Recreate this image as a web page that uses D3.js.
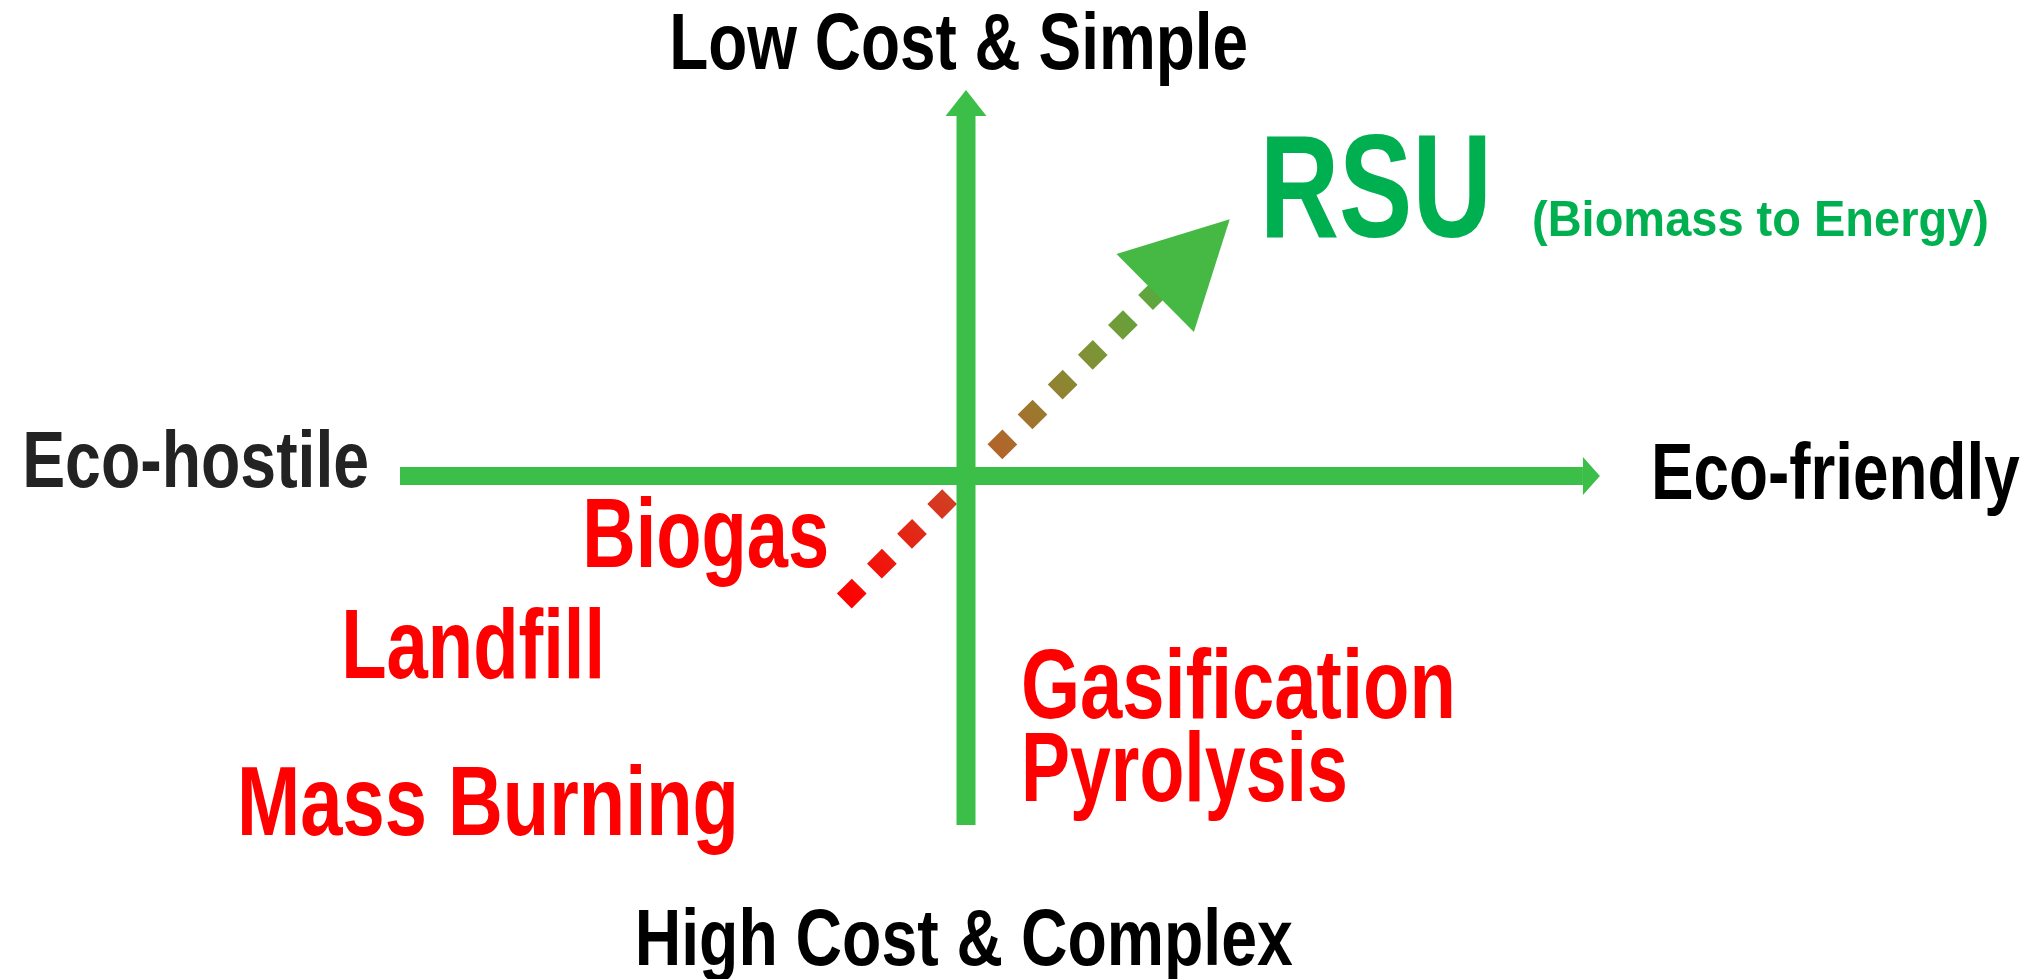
<!DOCTYPE html>
<html>
<head>
<meta charset="utf-8">
<script src="https://cdn.jsdelivr.net/npm/d3@7"></script>
<style>
  html, body { margin: 0; padding: 0; background: #fff; }
  svg { display: block; }
</style>
</head>
<body>
<svg id="chart" width="2038" height="979"></svg>
<script>
// ---- data (conceptual units: eco-friendliness on x, simplicity / low cost on y) ----
const hAxisExtent = [-100, 112];      // Eco-hostile -> Eco-friendly
const vAxisExtent = [-100, 110.6];    // High cost -> Low cost
const axisLabels = ["Low Cost & Simple", "High Cost & Complex", "Eco-hostile", "Eco-friendly"];
const axisLabelX = [-1.3, -0.4, -136.1, 153.6];
const axisLabelY = [116.6, -140.1, -3.2, -6.6];

const techNames = ["Biogas", "Landfill", "Mass Burning", "Gasification", "Pyrolysis"];
const techX = [-67.8, -110.4, -128.8, 9.7, 9.7];
const techY = [-26.1, -57.9, -102.9, -69.3, -93.1];

const targetLabels = ["RSU", "(Biomass to Energy)"];
const targetX = [51.9, 100];
const targetY = [68.5, 68.8];

const trendX = [-21.5, 46.6];   // dotted arrow: start, tip
const trendY = [-35.8, 73.6];

// ---- styles ----
const axisLabelStyle = { size: 80, widths: [579, 658, 347, 369], colors: ["#000", "#000", "#232323", "#000"] };
const techStyle = { size: 98, widths: [247, 264, 502, 435, 327], color: "#ff0000" };
const targetStyle = { sizes: [146, 50], widths: [232, 457], color: "#00b050" };
const axisColor = "#3bbf48";
const headColor = "#46b944";
const font = "'Liberation Sans', Arial, sans-serif";

// ---- scales ----
const svg = d3.select("#chart");
const x = d3.scaleLinear().domain([-100, 100]).range([400, 1532]);
const y = d3.scaleLinear().domain([-100, 100]).range([825, 127]);

// ---- gradient for dotted trend arrow ----
const defs = svg.append("defs");
const grad = defs.append("linearGradient")
  .attr("id", "trendGrad")
  .attr("gradientUnits", "userSpaceOnUse")
  .attr("x1", x(trendX[0])).attr("y1", y(trendY[0]))
  .attr("x2", x(trendX[1])).attr("y2", y(trendY[1]));
grad.append("stop").attr("offset", "0%").attr("stop-color", "#ff0000");
grad.append("stop").attr("offset", "25%").attr("stop-color", "#d6381f");
grad.append("stop").attr("offset", "40%").attr("stop-color", "#b0662a");
grad.append("stop").attr("offset", "65%").attr("stop-color", "#7c9435");
grad.append("stop").attr("offset", "85%").attr("stop-color", "#52ad40");
grad.append("stop").attr("offset", "100%").attr("stop-color", "#46b944");

// ---- dotted trend arrow ----
const sx = x(trendX[0]), sy = y(trendY[0]);
const tx = x(trendX[1]), ty = y(trendY[1]);
const len = Math.hypot(tx - sx, ty - sy);
const ux = (tx - sx) / len, uy = (ty - sy) / len;
const px = -uy, py = ux;
const headLen = 105, headHalf = 55;
const lineEnd = len - 80;
svg.append("line")
  .attr("x1", sx).attr("y1", sy)
  .attr("x2", sx + ux * lineEnd).attr("y2", sy + uy * lineEnd)
  .attr("stroke", "url(#trendGrad)")
  .attr("stroke-width", 21)
  .attr("stroke-dasharray", "21,21.4,21,21.4,21,21.4,21,63.8,21,21.4,21,21.4,21,21.4,21,21.4,21,21.4,21,21.4,21,21.4");
const bx = tx - ux * headLen, by = ty - uy * headLen;
svg.append("path")
  .attr("d", d3.line()([[tx, ty], [bx + px * headHalf, by + py * headHalf], [bx - px * headHalf, by - py * headHalf]]) + "Z")
  .attr("fill", headColor);

// ---- axes ----
const cx = x(0), cy = y(0);
const hw = 9.5;
// horizontal axis
const hx0 = x(hAxisExtent[0]), hx1 = x(hAxisExtent[1]);
svg.append("rect").attr("x", hx0).attr("y", cy - 9).attr("width", (hx1 - 17) - hx0).attr("height", 18).attr("fill", axisColor);
svg.append("path").attr("d", d3.line()([[hx1 - 17, cy - 19], [hx1, cy], [hx1 - 17, cy + 19]]) + "Z").attr("fill", axisColor);
// vertical axis
const vy0 = y(vAxisExtent[0]), vy1 = y(vAxisExtent[1]);
svg.append("rect").attr("x", cx - hw).attr("y", vy1 + 26).attr("width", hw * 2).attr("height", vy0 - (vy1 + 26)).attr("fill", axisColor);
svg.append("path").attr("d", d3.line()([[cx - 20.5, vy1 + 26], [cx, vy1], [cx + 20.5, vy1 + 26]]) + "Z").attr("fill", axisColor);

// ---- axis end labels ----
svg.selectAll("text.axisLabel").data(axisLabels).enter().append("text")
  .attr("class", "axisLabel")
  .attr("x", (d, i) => x(axisLabelX[i]))
  .attr("y", (d, i) => y(axisLabelY[i]))
  .attr("text-anchor", "middle")
  .attr("textLength", (d, i) => axisLabelStyle.widths[i])
  .attr("lengthAdjust", "spacingAndGlyphs")
  .style("font-family", font)
  .style("font-weight", "bold")
  .style("font-size", axisLabelStyle.size + "px")
  .attr("fill", (d, i) => axisLabelStyle.colors[i])
  .text(d => d);

// ---- technology labels ----
svg.selectAll("text.tech").data(techNames).enter().append("text")
  .attr("class", "tech")
  .attr("x", (d, i) => x(techX[i]))
  .attr("y", (d, i) => y(techY[i]))
  .attr("textLength", (d, i) => techStyle.widths[i])
  .attr("lengthAdjust", "spacingAndGlyphs")
  .style("font-family", font)
  .style("font-weight", "bold")
  .style("font-size", techStyle.size + "px")
  .attr("fill", techStyle.color)
  .text(d => d);

// ---- target labels ----
svg.selectAll("text.target").data(targetLabels).enter().append("text")
  .attr("class", "target")
  .attr("x", (d, i) => x(targetX[i]))
  .attr("y", (d, i) => y(targetY[i]))
  .attr("textLength", (d, i) => targetStyle.widths[i])
  .attr("lengthAdjust", "spacingAndGlyphs")
  .style("font-family", font)
  .style("font-weight", "bold")
  .style("font-size", (d, i) => targetStyle.sizes[i] + "px")
  .attr("fill", targetStyle.color)
  .text(d => d);
</script>
</body>
</html>
